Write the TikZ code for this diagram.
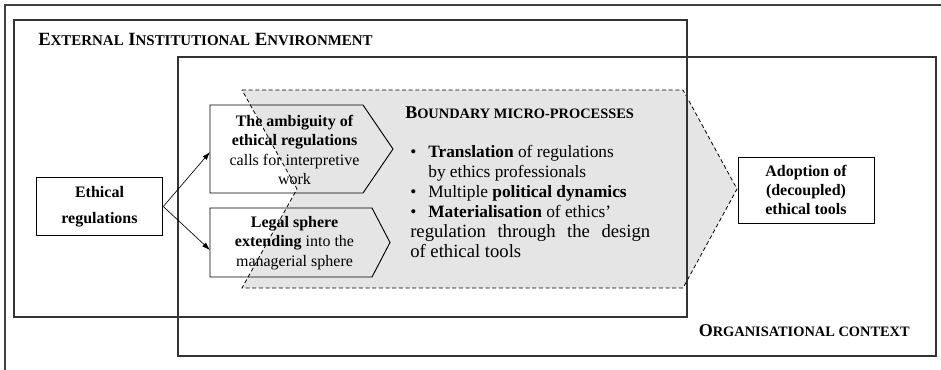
\documentclass[tikz,border=0pt]{standalone}
\usepackage{fontspec}
\setmainfont{Liberation Serif}
\usetikzlibrary{positioning,arrows.meta}

\newcommand{\lowcaps}[2]{{\fontsize{#1}{#1}\selectfont #2}}

\begin{document}
\begin{tikzpicture}
[x=0.75pt, y=-0.75pt,
    font=\fontsize{12}{14}\selectfont,
    >={Latex[length=6pt,width=4pt]},
    frame/.style={draw=black!80, line width=1.1pt},
    plainbox/.style={draw, line width=0.7pt, align=center,
    font=\fontsize{12}{14}\selectfont\bfseries, inner sep=2pt},
    arrowshape/.style={draw, line width=0.7pt},
    boxtext/.style={align=center, inner sep=0pt,
    font=\fontsize{12}{14.5}\selectfont},
    heading/.style={font=\fontsize{14}{16}\selectfont\bfseries, inner sep=0pt},
    subheading/.style={font=\fontsize{13.5}{15}\selectfont\bfseries, inner sep=0pt},
    chevron/.style={fill=gray!20, draw=black, dashed,
    dash pattern=on 3pt off 2pt, line width=0.6pt},
    ]

    \useasboundingbox (0,0) rectangle (941,369);

    % page frame, cut by the border
    \draw[black!75, line width=1.5pt] (5,380) -- (5,5) -- (950,5);

    % boundary zone
    \filldraw[chevron] (242,90) -- (683,90) -- (737,189) -- (683,288)
        -- (242,288) -- (297,189) -- cycle;

    % environment and context
    \draw[frame] (14,20) rectangle (687,317);
    \draw[frame] (178,57) rectangle (936,356);

    \node[heading, anchor=base west] (extlabel) at (38,45)
        {E\lowcaps{11.2}{XTERNAL} I\lowcaps{11.2}{NSTITUTIONAL} E\lowcaps{11.2}{NVIRONMENT}};
    \node[subheading, anchor=base east]
        (orglabel) at (910,336) {O\lowcaps{10.8}{RGANISATIONAL CONTEXT}};

    \node[plainbox, minimum width=95pt, minimum height=43pt,
        font=\fontsize{12}{19.5}\selectfont\bfseries] (ethreg) at (99.5,206.5)
        {Ethical\\regulations};

    % the two pressures
    \draw[arrowshape] (210,105) -- (363,105) -- (393,149) -- (363,193)
        -- (210,193) -- cycle;
    \coordinate (ambigin) at (210,152);
    \node[boxtext] (ambig) at (294.5,150)
        {\textbf{The ambiguity of}\\\textbf{ethical regulations}\\calls for interpretive\\work};

    \draw[arrowshape] (210,208) -- (372,208) -- (390,242.5) -- (372,277)
        -- (210,277) -- cycle;
    \coordinate (legalin) at (210,250);
    \node[boxtext] (legal) at (294.5,243)
        {\textbf{Legal sphere}\\\textbf{extending} into the\\managerial sphere};

    \node[subheading, anchor=base west]
        (proclabel) at (405,118) {B\lowcaps{10.8}{OUNDARY MICRO-PROCESSES}};
    \node[anchor=north west, inner sep=0pt, font=\fontsize{13}{15}\selectfont]
        (proclist) at (410,143) {%
        \begin{tabular}{@{}l@{}}
        \textbullet\hspace{9pt}\textbf{Translation} of regulations\\
        \hphantom{\textbullet\hspace{9pt}}by ethics professionals\\
        \textbullet\hspace{9pt}Multiple \textbf{political dynamics}\\
        \textbullet\hspace{9pt}\textbf{Materialisation} of ethics’\\
        \fontsize{14}{15}\selectfont\makebox[180pt][s]{regulation through the design}\\
        \fontsize{14}{15}\selectfont of ethical tools
        \end{tabular}};

    \node[plainbox, minimum width=102pt, minimum height=49.5pt] (adopt)
        at (806,190) {Adoption of\\(decoupled)\\ethical tools};

    \draw[->, line width=0.5pt] (ethreg.east) -- (ambigin);
    \draw[->, line width=0.5pt] (ethreg.east) -- (legalin);

\end{tikzpicture}
\end{document}
